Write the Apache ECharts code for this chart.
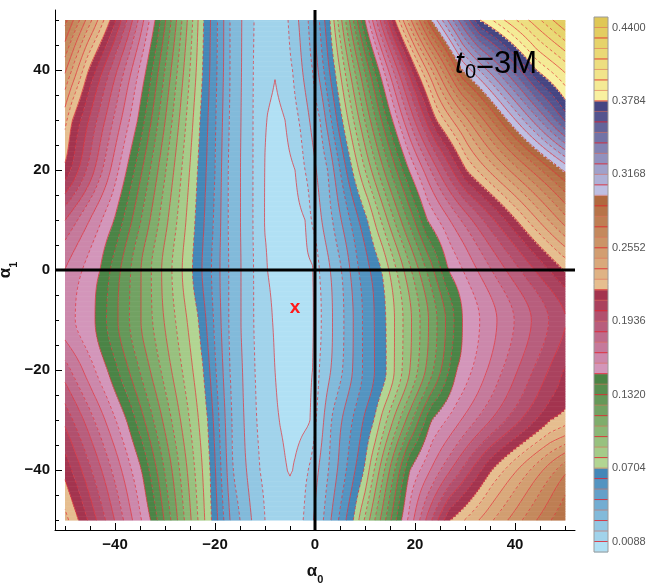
<!DOCTYPE html>
<html><head><meta charset="utf-8">
<script src="https://cdn.jsdelivr.net/npm/echarts@6/dist/echarts.min.js"></script>
<style>html,body{margin:0;padding:0;background:#fff}#c{width:653px;height:587px}</style>
</head><body><div id="c"></div>
<script>
// ---------------- data ----------------
// contour level step and number of colour bands
const levelStep = 0.0088;
const bandCount = 51;
// alpha1 values of the sampled rows
const rowAlpha1 = [50, 40, 30, 20, 10, 0, -10, -20, -30, -40, -50];
// each row: [alpha0, value] pairs read along that row
const rowP50 = [[-50,0.285],[-41,0.22],[-32,0.1496],[-22.3,0.0704],[-19.5,0.0528],[-17,0.0352],[-12.3,0.0176],[-8.5,0.012],[-5.3,0.0176],[-1.3,0.0352],[3,0.0704],[10,0.1496],[16,0.22],[23.3,0.2992],[33,0.3784],[50,0.44]];
const rowP40 = [[-50,0.257],[-45.3,0.22],[-33.8,0.1496],[-22.5,0.0704],[-19.6,0.0528],[-17,0.0352],[-12.4,0.0176],[-8,0.0095],[-4.5,0.0176],[-0.5,0.0352],[4,0.0704],[12.8,0.1496],[20.3,0.22],[29.5,0.2992],[44.3,0.3784],[50,0.398]];
const rowP30 = [[-50,0.232],[-48.5,0.22],[-35.5,0.1496],[-23,0.0704],[-19.8,0.0528],[-17.2,0.0352],[-12.4,0.0176],[-9.7,0.0088],[-8,0.006],[-6,0.0088],[-3.2,0.0176],[1,0.0352],[5.5,0.0704],[15.5,0.1496],[24.3,0.22],[38.5,0.2992],[50,0.362]];
const rowP20 = [[-50,0.217],[-37.7,0.1496],[-23.5,0.0704],[-20,0.0528],[-17.4,0.0352],[-12.4,0.0176],[-10.1,0.0088],[-7.5,0.004],[-4,0.0088],[-2,0.0176],[2.5,0.0352],[7.5,0.0704],[18.8,0.1496],[30.3,0.22],[49.5,0.2992],[50,0.301]];
const rowP10 = [[-50,0.185],[-40.2,0.1496],[-24,0.0704],[-20.3,0.0528],[-17.4,0.0352],[-12.4,0.0176],[-10.2,0.0088],[-6,0.003],[-2,0.0088],[-0.8,0.0176],[3.5,0.0352],[10.5,0.0704],[22.5,0.1496],[40.3,0.22],[50,0.26]];
const rowP0 = [[-50,0.167],[-43,0.1496],[-24.5,0.0704],[-20.7,0.0528],[-17.3,0.0352],[-12.3,0.0176],[-9.5,0.0088],[-5,0.0025],[-0.3,0.0088],[0.8,0.0176],[5.3,0.0352],[8.7,0.0528],[13.3,0.0704],[26.7,0.1496],[49.7,0.22],[50,0.2205]];
const rowM10 = [[-50,0.163],[-44,0.1496],[-23.3,0.0704],[-20.3,0.0528],[-17.3,0.0352],[-12.3,0.0176],[-8.5,0.0088],[-4,0.001],[-0.2,0.0088],[1.2,0.0176],[5.8,0.0352],[9.5,0.0528],[14.2,0.0704],[29.5,0.1496],[50,0.202]];
const rowM20 = [[-50,0.18],[-41.5,0.1496],[-22.3,0.0704],[-19.8,0.0528],[-17,0.0352],[-12,0.0176],[-8,0.0088],[-4.5,0.002],[-0.5,0.0088],[0.8,0.0176],[5.5,0.0352],[9.5,0.0528],[14.3,0.0704],[28.3,0.1496],[50,0.212]];
const rowM30 = [[-50,0.2],[-37.7,0.1496],[-21.5,0.0704],[-19.2,0.0528],[-16.7,0.0352],[-11.7,0.0176],[-7.2,0.0088],[-4,0.005],[-1,0.0088],[0.2,0.0176],[3.3,0.0352],[7.5,0.0528],[11.8,0.0704],[23.3,0.1496],[47,0.22],[50,0.225]];
const rowM40 = [[-50,0.217],[-34.7,0.1496],[-21,0.0704],[-18.8,0.0528],[-16.4,0.0352],[-11,0.0176],[-5.6,0.0088],[-5,0.0085],[-4.4,0.0088],[-1.3,0.0176],[2.7,0.0352],[9.8,0.0704],[19,0.1496],[35.3,0.22],[50,0.27]];
const rowM50 = [[-50,0.232],[-47.3,0.22],[-32.9,0.1496],[-20.7,0.0704],[-17,0.044],[-15,0.0352],[-12.7,0.0264],[-10,0.0176],[-5,0.011],[-2.3,0.0176],[1.7,0.0352],[7.7,0.0704],[17.3,0.1496],[27,0.22],[50,0.29]];
const rowKnots = [rowP50, rowP40, rowP30, rowP20, rowP10, rowP0, rowM10, rowM20, rowM30, rowM40, rowM50];
// colour bar labels and axis tick labels
const barLabels = [0.0088, 0.0704, 0.1320, 0.1936, 0.2552, 0.3168, 0.3784, 0.4400];
const axisLabelsX = [-40, -20, 0, 20, 40];
const axisLabelsY = [-40, -20, 0, 20, 40];
const minorTicks = [-50,-45,-40,-35,-30,-25,-20,-15,-10,-5,0,5,10,15,20,25,30,35,40,45,50];
const minMarker = [[-4, -7.5]];

// ---------------- styling ----------------
const groups = [
  {from: 0,  to: 7,  c0: '#b1e0f4', c1: '#4487b8'},
  {from: 8,  to: 16, c0: '#b2d592', c1: '#4b8446'},
  {from: 17, to: 24, c0: '#d396ba', c1: '#a3344f'},
  {from: 25, to: 33, c0: '#e6be8f', c1: '#b0693f'},
  {from: 34, to: 42, c0: '#bebfe2', c1: '#454582'},
  {from: 43, to: 50, c0: '#f8f0a0', c1: '#dfc756'}
];
function hex(c){return [parseInt(c.slice(1,3),16),parseInt(c.slice(3,5),16),parseInt(c.slice(5,7),16)];}
const bandColors = [];
for (let n = 0; n < bandCount; n++) {
  const g = groups.find(gr => n >= gr.from && n <= gr.to);
  const t = (n - g.from) / (g.to - g.from);
  const a = hex(g.c0), b = hex(g.c1);
  bandColors.push('rgb(' + a.map((v, k) => Math.round(v + (b[k] - v) * t)).join(',') + ')');
}
const lineColor = 'rgba(226,52,60,0.8)';
const FONT = 'Liberation Sans, Arial, sans-serif';

// ---------------- field rendering (contour plot of the row samples) ----------------
function profile(knots, x) {
  if (x <= knots[0][0]) return knots[0][1];
  for (let k = 1; k < knots.length; k++) {
    if (x <= knots[k][0]) {
      const [x0, v0] = knots[k - 1], [x1, v1] = knots[k];
      return v0 + (v1 - v0) * (x - x0) / (x1 - x0);
    }
  }
  return knots[knots.length - 1][1];
}
// monotone (Fritsch-Carlson) slopes along a column of evenly spaced rows
function monoSlopes(f) {
  const n = f.length, d = [], m = new Array(n);
  for (let k = 0; k < n - 1; k++) d.push(f[k + 1] - f[k]);
  m[0] = d[0]; m[n - 1] = d[n - 2];
  for (let k = 1; k < n - 1; k++) m[k] = d[k - 1] * d[k] <= 0 ? 0 : (d[k - 1] + d[k]) / 2;
  for (let k = 0; k < n - 1; k++) {
    if (d[k] === 0) { m[k] = 0; m[k + 1] = 0; continue; }
    const a = m[k] / d[k], b = m[k + 1] / d[k], s = a * a + b * b;
    if (s > 9) { const t = 3 / Math.sqrt(s); m[k] = t * a * d[k]; m[k + 1] = t * b * d[k]; }
  }
  return m;
}
const D = 0.5, NX = 201, NY = 201;
const xs = [], ys = [];
for (let i = 0; i < NX; i++) xs.push(-50 + i * D);
for (let j = 0; j < NY; j++) ys.push(-50 + j * D);
const rowSamples = rowKnots.map(k => xs.map(x => profile(k, x)));
const colSlopes = xs.map((x, i) => monoSlopes(rowSamples.map(r => r[i])));
const V = ys.map(y => {
  let r = 0;
  while (r < rowAlpha1.length - 2 && y < rowAlpha1[r + 1]) r++;
  const s = (rowAlpha1[r] - y) / (rowAlpha1[r] - rowAlpha1[r + 1]);
  const h00 = 2*s*s*s - 3*s*s + 1, h10 = s*s*s - 2*s*s + s, h01 = -2*s*s*s + 3*s*s, h11 = s*s*s - s*s;
  return xs.map((x, i) => h00 * rowSamples[r][i] + h10 * colSlopes[i][r] + h01 * rowSamples[r + 1][i] + h11 * colSlopes[i][r + 1]);
});
function bandOf(v){ return Math.max(0, Math.min(bandCount - 1, Math.floor(v / levelStep))); }

function contourLines(L) {
  const segs = [];
  for (let j = 0; j < NY - 1; j++) {
    for (let i = 0; i < NX - 1; i++) {
      const a = V[j][i], b = V[j][i + 1], c = V[j + 1][i + 1], d = V[j + 1][i];
      const A = a >= L, B = b >= L, C = c >= L, Dd = d >= L;
      if (A === B && B === C && C === Dd) continue;
      const e = {};
      if (A !== B) e.bot = [i + ',' + j + 'h', [xs[i] + D * (L - a) / (b - a), ys[j]]];
      if (B !== C) e.rig = [(i + 1) + ',' + j + 'v', [xs[i + 1], ys[j] + D * (L - b) / (c - b)]];
      if (Dd !== C) e.top = [i + ',' + (j + 1) + 'h', [xs[i] + D * (L - d) / (c - d), ys[j + 1]]];
      if (A !== Dd) e.lef = [i + ',' + j + 'v', [xs[i], ys[j] + D * (L - a) / (d - a)]];
      const ks = Object.keys(e);
      if (ks.length === 2) segs.push([e[ks[0]], e[ks[1]]]);
      else if (ks.length === 4) {
        const ctr = (a + b + c + d) / 4 >= L;
        if (A === ctr) { segs.push([e.bot, e.rig]); segs.push([e.top, e.lef]); }
        else { segs.push([e.bot, e.lef]); segs.push([e.rig, e.top]); }
      }
    }
  }
  const map = new Map();
  segs.forEach((s, idx) => { for (const end of s) { const k = end[0]; if (!map.has(k)) map.set(k, []); map.get(k).push(idx); } });
  const seen = new Uint8Array(segs.length);
  const lines = [];
  for (let s = 0; s < segs.length; s++) {
    if (seen[s]) continue; seen[s] = 1;
    const line = [segs[s][0][1], segs[s][1][1]];
    for (const dir of [1, 0]) {
      let key = dir ? segs[s][1][0] : segs[s][0][0];
      for (;;) {
        const lst = map.get(key); let nx = -1;
        for (const t of lst) if (!seen[t]) { nx = t; break; }
        if (nx < 0) break; seen[nx] = 1;
        const sg = segs[nx];
        const other = sg[0][0] === key ? sg[1] : sg[0];
        if (dir) line.push(other[1]); else line.unshift(other[1]);
        key = other[0];
      }
    }
    lines.push(line);
  }
  return lines;
}
const contourSet = [];
for (let n = 1; n < bandCount; n++) contourSet.push({n: n, lines: contourLines(n * levelStep)});

function renderField(params, api) {
  const children = [];
  for (let j = 0; j < NY; j++) {
    const y = ys[j];
    const yT = Math.min(50, y + D / 2), yB = Math.max(-50, y - D / 2);
    const pT = api.coord([0, yT])[1], pB = api.coord([0, yB])[1];
    const row = V[j];
    let start = -50, band = bandOf(row[0]);
    const push = (xa, xb, bd) => {
      const p1 = api.coord([xa, 0])[0], p2 = api.coord([xb, 0])[0];
      if (p2 - p1 < 0.01) return;
      children.push({type: 'rect', silent: true, shape: {x: p1, y: pT, width: p2 - p1 + 0.4, height: pB - pT + 0.6}, style: {fill: bandColors[bd]}});
    };
    for (let i = 0; i < NX - 1; i++) {
      const v0 = row[i], v1 = row[i + 1], b1 = bandOf(v1);
      if (b1 !== band) {
        const dir = b1 > band ? 1 : -1;
        while (band !== b1) {
          const L = levelStep * (dir > 0 ? band + 1 : band);
          let f = (L - v0) / (v1 - v0); f = Math.max(0, Math.min(1, f));
          const xc = xs[i] + f * D;
          push(start, xc, band);
          start = xc; band += dir;
        }
      }
    }
    push(start, 50, band);
  }
  for (const cs of contourSet) {
    for (const line of cs.lines) {
      if (line.length < 2) continue;
      children.push({type: 'polyline', silent: true,
        shape: {points: line.map(p => api.coord(p))},
        style: {fill: null, stroke: lineColor, lineWidth: 0.9, lineDash: cs.n % 2 === 0 ? [3, 2.5] : null}});
    }
  }
  return {type: 'group', children: children};
}

function renderAxesLines(params, api) {
  const t = api.coord([0, 52]), b = api.coord([0, -52]), l = api.coord([-52, 0]), r = api.coord([52, 0]);
  return {type: 'group', children: [
    {type: 'line', shape: {x1: t[0], y1: t[1], x2: b[0], y2: b[1]}, style: {stroke: '#000', lineWidth: 3}},
    {type: 'line', shape: {x1: l[0], y1: l[1], x2: r[0], y2: r[1]}, style: {stroke: '#000', lineWidth: 3}}
  ]};
}

function renderMarker(params, api) {
  const p = api.coord([api.value(0), api.value(1)]);
  return {type: 'text', x: p[0], y: p[1], style: {text: 'x', fill: '#ff1a1a', font: 'bold 19px ' + FONT, align: 'center', verticalAlign: 'middle'}};
}

function renderBar(params, api) {
  const children = [];
  for (let n = 0; n < bandCount; n++) {
    const p0 = api.coord([0, (n + 1) * levelStep]), p1 = api.coord([1, n * levelStep]);
    children.push({type: 'rect', shape: {x: p0[0], y: p0[1], width: p1[0] - p0[0], height: p1[1] - p0[1] + 0.5}, style: {fill: bandColors[n]}});
  }
  for (let n = 1; n < bandCount; n++) {
    const p0 = api.coord([0, n * levelStep]), p1 = api.coord([1, n * levelStep]);
    children.push({type: 'line', shape: {x1: p0[0], y1: p0[1], x2: p1[0], y2: p1[1]}, style: {stroke: n % 2 ? 'rgba(226,40,50,0.85)' : 'rgba(226,110,90,0.6)', lineWidth: 1}});
  }
  const a = api.coord([0, bandCount * levelStep]), b = api.coord([1, 0]);
  children.push({type: 'rect', shape: {x: a[0], y: a[1], width: b[0] - a[0], height: b[1] - a[1]}, style: {fill: null, stroke: '#9a9a9a', lineWidth: 1}});
  return {type: 'group', children: children};
}

const minus = v => (v < 0 ? '\u2212' + (-v) : String(v));
const axisLabelStyle = {fontFamily: FONT, fontWeight: 'bold', fontSize: 15, color: '#111'};
const nameRich = {
  a: {fontFamily: FONT, fontWeight: 'bold', fontSize: 17, color: '#111'},
  s: {fontFamily: FONT, fontWeight: 'bold', fontSize: 11, color: '#111', verticalAlign: 'bottom', padding: [0, 0, -5, 0]}
};

const option = {
  animation: false,
  backgroundColor: '#fff',
  grid: [
    {left: 55, right: 78, top: 10, bottom: 57, outerBoundsMode: 'none'},
    {left: 594, width: 14, top: 17, height: 535, outerBoundsMode: 'none'}
  ],
  xAxis: [
    {gridIndex: 0, type: 'value', min: -52, max: 52, position: 'bottom',
     axisLine: {show: true, onZero: false, lineStyle: {color: '#000', width: 1}},
     axisTick: {show: true, inside: true, length: 4, customValues: minorTicks, lineStyle: {color: '#000'}},
     axisLabel: {show: true, customValues: axisLabelsX, formatter: minus, margin: 7, ...axisLabelStyle},
     splitLine: {show: false},
     name: '{a|\u03b1}{s|0}', nameLocation: 'middle', nameGap: 33, nameMoveOverlap: false, nameTextStyle: {rich: nameRich}},
    {gridIndex: 0, type: 'value', min: -52, max: 52, position: 'bottom',
     axisLine: {show: false, onZero: false}, axisTick: {show: true, inside: true, length: 7, customValues: axisLabelsX, lineStyle: {color: '#000'}},
     axisLabel: {show: false}, splitLine: {show: false}},
    {gridIndex: 1, type: 'value', min: 0, max: 1, show: false}
  ],
  yAxis: [
    {gridIndex: 0, type: 'value', min: -52, max: 52, position: 'left',
     axisLine: {show: true, onZero: false, lineStyle: {color: '#000', width: 1}},
     axisTick: {show: true, inside: true, length: 4, customValues: minorTicks, lineStyle: {color: '#000'}},
     axisLabel: {show: true, customValues: axisLabelsY, formatter: minus, margin: 5, ...axisLabelStyle},
     splitLine: {show: false},
     name: '{a|\u03b1}{s|1}', nameLocation: 'middle', nameGap: 41, nameRotate: 90, nameMoveOverlap: false, nameTextStyle: {rich: nameRich}},
    {gridIndex: 0, type: 'value', min: -52, max: 52, position: 'left',
     axisLine: {show: false, onZero: false}, axisTick: {show: true, inside: true, length: 7, customValues: axisLabelsY, lineStyle: {color: '#000'}},
     axisLabel: {show: false}, splitLine: {show: false}},
    {gridIndex: 1, type: 'value', min: 0, max: bandCount * levelStep, position: 'right',
     axisLine: {show: false}, axisTick: {show: true, length: 4, customValues: barLabels, lineStyle: {color: '#888'}},
     axisLabel: {show: true, customValues: barLabels, formatter: v => v.toFixed(4), margin: 4, fontFamily: FONT, fontSize: 11, color: '#555'},
     splitLine: {show: false}}
  ],
  graphic: [
    {type: 'text', x: 455, y: 64, z: 10, style: {text: 't', font: 'italic 31px ' + FONT, fill: '#000', verticalAlign: 'middle'}},
    {type: 'text', x: 465, y: 72, z: 10, style: {text: '0', font: '20px ' + FONT, fill: '#000', verticalAlign: 'middle'}},
    {type: 'text', x: 476, y: 64, z: 10, style: {text: '=3M', font: '31px ' + FONT, fill: '#000', verticalAlign: 'middle'}}
  ],
  series: [
    {type: 'custom', xAxisIndex: 0, yAxisIndex: 0, data: [[0, 0]], renderItem: renderField, silent: true, z: 1},
    {type: 'custom', xAxisIndex: 0, yAxisIndex: 0, data: [[0, 0]], renderItem: renderAxesLines, silent: true, z: 3},
    {type: 'custom', xAxisIndex: 0, yAxisIndex: 0, data: minMarker, renderItem: renderMarker, silent: true, z: 4},
    {type: 'custom', xAxisIndex: 2, yAxisIndex: 2, data: [[0, 0]], renderItem: renderBar, silent: true, z: 1}
  ]
};
const chart = echarts.init(document.getElementById('c'));
chart.setOption(option);
</script>
</body></html>
